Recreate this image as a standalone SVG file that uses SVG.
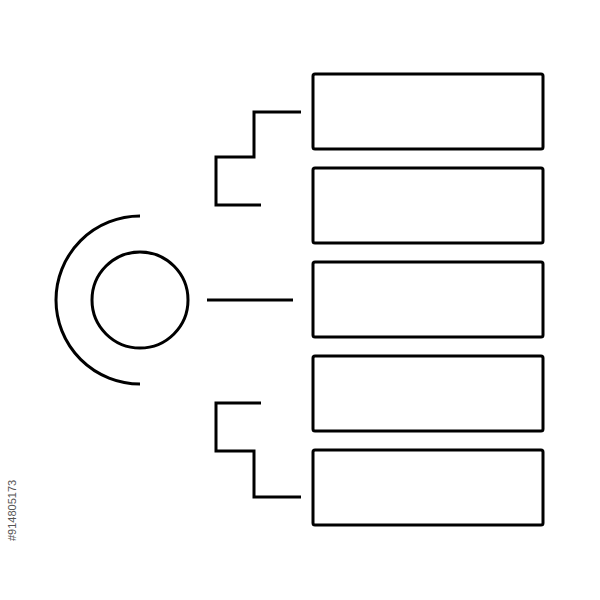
<svg xmlns="http://www.w3.org/2000/svg" width="600" height="600" viewBox="0 0 600 600">
<style>
.s{fill:none;stroke:#000;stroke-width:3;stroke-linecap:butt;stroke-linejoin:miter}
.wm{font-family:"Liberation Sans",Arial,sans-serif;font-size:11px;fill:#555}
</style>
<rect width="600" height="600" fill="#fff"/>
<g id="hub">
<circle class="s" cx="140" cy="300" r="48"/>
<path class="s" d="M140,216 A84,84 0 0 0 140,384"/>
</g>
<g id="box1"><rect class="s" x="313" y="74" width="230" height="75" rx="2"/></g>
<g id="box2"><rect class="s" x="313" y="168" width="230" height="75" rx="2"/></g>
<g id="box3"><rect class="s" x="313" y="262" width="230" height="75" rx="2"/></g>
<g id="box4"><rect class="s" x="313" y="356" width="230" height="75" rx="2"/></g>
<g id="box5"><rect class="s" x="313" y="450" width="230" height="75" rx="2"/></g>
<g id="connectors">
<path class="s" d="M301,112 H254 V157 H216 V205 H261"/>
<line class="s" x1="207" y1="300" x2="293" y2="300"/>
<path class="s" d="M261,403 H216 V451 H254 V497 H301"/>
</g>
<text class="wm" transform="translate(16,541) rotate(-90)">#914805173</text>
</svg>
